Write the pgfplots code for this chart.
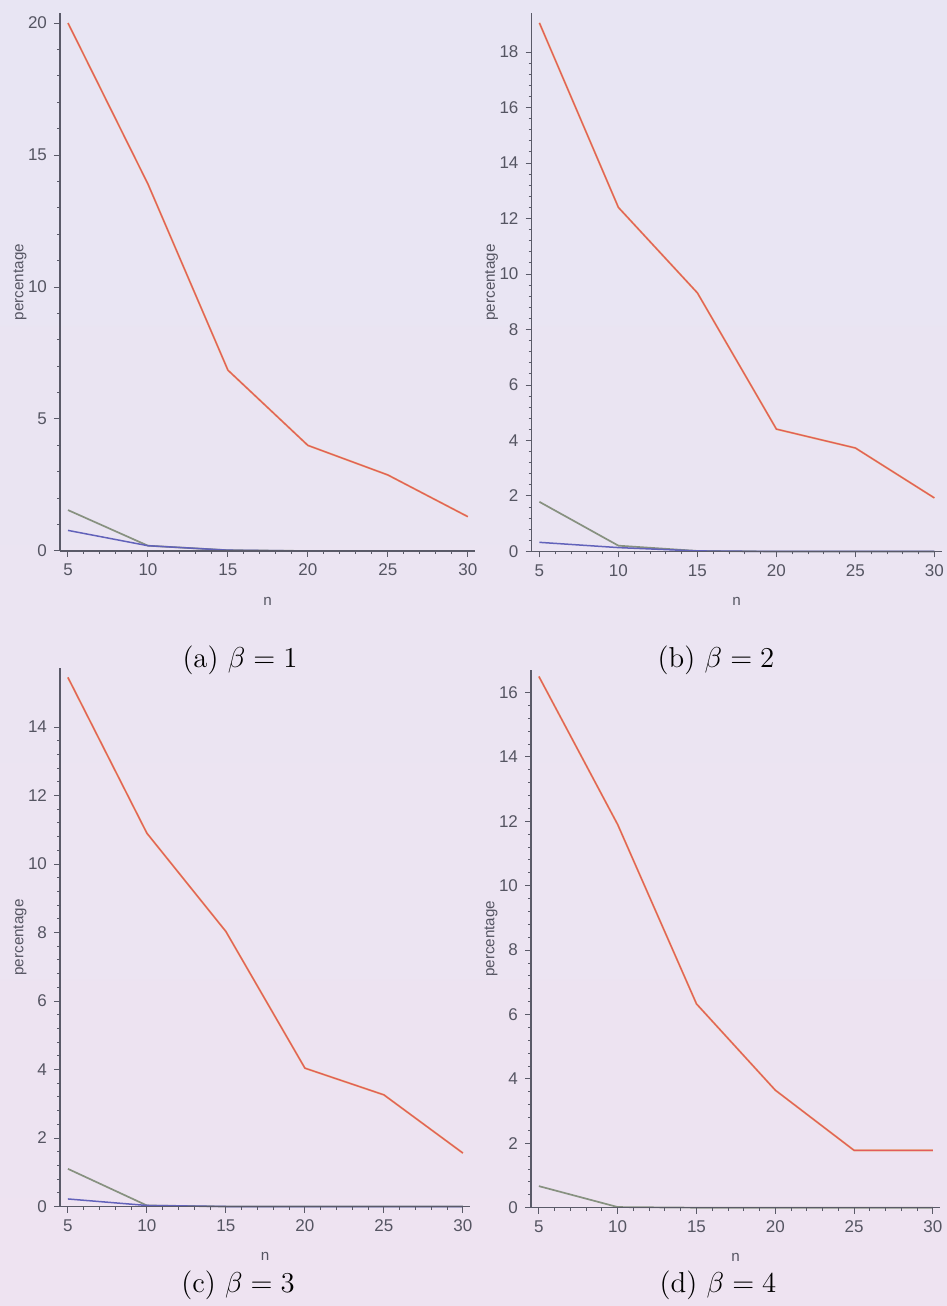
\documentclass[border=0pt]{standalone}
\usepackage{pgfplots}
\usepackage{pgfplotstable}
\pgfplotsset{compat=1.18}
\usepackage{fontspec}
\newfontfamily\arialf{Liberation Sans}
\definecolor{bgtop}{RGB}{232,229,243}
\definecolor{bgbot}{RGB}{238,227,241}
\definecolor{axcol}{RGB}{90,90,104}
\definecolor{txtcol}{RGB}{85,85,98}
\definecolor{redl}{RGB}{226,92,92}
\definecolor{yell}{RGB}{236,200,130}
\definecolor{grayl}{RGB}{135,145,128}
\definecolor{bluel}{RGB}{98,98,186}

\pgfplotstableread{
n  red   gray  blue
5  20.0  1.55  0.78
10 13.9  0.20  0.20
15 6.85  0.03  0.03
20 4.00  0     0
25 2.88  0     0
30 1.30  0     0
}\tabA
\pgfplotstableread{
n  red   gray  blue
5  19.05 1.79  0.33
10 12.40 0.21  0.14
15 9.32  0.02  0.02
20 4.41  0     0
25 3.73  0     0
30 1.93  0     0
}\tabB
\pgfplotstableread{
n  red   gray  blue
5  15.45 1.10  0.22
10 10.90 0.03  0.03
15 8.03  0     0
20 4.04  0     0
25 3.26  0     0
30 1.56  0     0
}\tabC
\pgfplotstableread{
n  red   gray  blue
5  16.50 0.67  0
10 11.90 0.02  0
15 6.33  0     0
20 3.65  0     0
25 1.78  0     0
30 1.78  0     0
}\tabD

\pgfplotsset{
  panel/.style={
    scale only axis,
    axis x line=bottom, axis y line=left,
    axis line style={-, axcol, line width=0.6pt},
    xmin=4.5, xmax=30.45, ymin=0,
    xtick={5,10,...,30},
    minor x tick num=4, minor y tick num=4,
    tick align=outside,
    major tick length=3pt, minor tick length=1.5pt,
    every tick/.style={axcol, line width=0.5pt},
    tick label style={font=\arialf\fontsize{8.5}{10}\selectfont, text=txtcol},
    /pgf/number format/assume math mode=true,
    xlabel={n}, ylabel={percentage},
    label style={font=\arialf\fontsize{7.6}{9}\selectfont, text=txtcol},
    xlabel style={at={([yshift=-25pt]axis description cs:0.5,0)}, anchor=center},
    ylabel style={at={([xshift=-20pt]axis description cs:0,0.5)}, anchor=center},
    clip=false,
    axis on top,
    height=269pt,
  },
}
\newcommand{\drawpanel}[1]{%
  \addplot[yell, line width=1.0pt] table[x=n,y=red] {#1};
  \addplot[redl, line width=0.65pt] table[x=n,y=red] {#1};
  \addplot[grayl, line width=0.85pt] table[x=n,y=gray] {#1};
  \addplot[bluel, line width=0.75pt] table[x=n,y=blue] {#1};
}

\begin{document}
\begin{tikzpicture}
\useasboundingbox (0,0) rectangle (473.5pt,653pt);
\shade[top color=bgtop, bottom color=bgbot] (0,0) rectangle (473.5pt,653pt);

\begin{axis}[panel, at={(30pt,377.5pt)}, anchor=south west,
  width=207.5pt, ymax=20.38, ytick={0,5,10,15,20}]
\drawpanel{\tabA}
\end{axis}

\begin{axis}[panel, at={(265.75pt,377.25pt)}, anchor=south west,
  width=205pt, ymax=19.39, ytick={0,2,...,18}]
\drawpanel{\tabB}
\end{axis}

\begin{axis}[panel, at={(30pt,49.75pt)}, anchor=south west,
  width=205pt, ymax=15.71, ytick={0,2,...,14}]
\drawpanel{\tabC}
\end{axis}

\begin{axis}[panel, at={(265.5pt,49.15pt)}, anchor=south west,
  width=204.5pt, ymax=16.71, ytick={0,2,...,16}]
\drawpanel{\tabD}
\end{axis}

\begin{scope}[every node/.style={font=\fontsize{14.4}{16}\selectfont}]
\node at (120pt,323pt) {(a) $\beta = 1$};
\node at (358pt,323pt) {(b) $\beta = 2$};
\node at (119pt,10.5pt) {(c) $\beta = 3$};
\node at (359pt,10.5pt) {(d) $\beta = 4$};
\end{scope}
\end{tikzpicture}
\end{document}
